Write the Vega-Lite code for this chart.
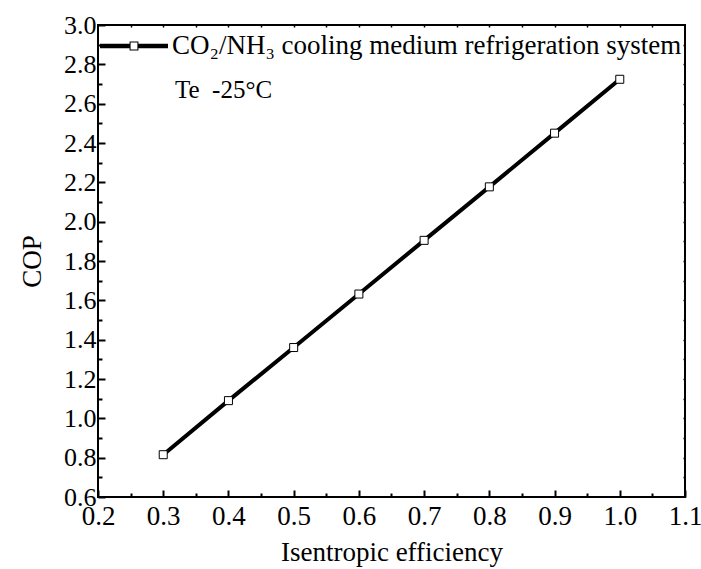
{
  "$schema": "https://vega.github.io/schema/vega-lite/v6.json",
  "width": 587,
  "height": 472,
  "autosize": "none",
  "padding": {"left": 98, "top": 25, "right": 16, "bottom": 72},
  "background": "white",
  "config": {
    "font": "Liberation Serif",
    "view": {"stroke": "black", "strokeWidth": 2},
    "axis": {
      "labelFont": "Liberation Serif",
      "labelFontSize": 27,
      "labelColor": "black",
      "labelFlush": false,
      "labelOverlap": false,
      "titleFont": "Liberation Serif",
      "titleFontSize": 27,
      "titleFontWeight": "normal",
      "titleColor": "black",
      "tickColor": "black",
      "tickWidth": 2,
      "domain": false,
      "grid": false
    }
  },
  "data": {
    "values": [
      {"eff": 0.3, "cop": 0.815},
      {"eff": 0.4, "cop": 1.09},
      {"eff": 0.5, "cop": 1.36},
      {"eff": 0.6, "cop": 1.632},
      {"eff": 0.7, "cop": 1.905},
      {"eff": 0.8, "cop": 2.177},
      {"eff": 0.9, "cop": 2.45},
      {"eff": 1.0, "cop": 2.724}
    ]
  },
  "layer": [
    {
      "mark": {"type": "line", "strokeWidth": 4},
      "encoding": {
        "x": {
          "field": "eff", "type": "quantitative",
          "scale": {"domain": [0.2, 1.1], "nice": false, "zero": false},
          "axis": {"orient": "bottom", "values": [0.2, 0.3, 0.4, 0.5, 0.6, 0.7, 0.8, 0.9, 1.0, 1.1], "format": ".1f", "tickSize": -7, "labelPadding": 13, "title": "Isentropic efficiency", "titlePadding": 10}
        },
        "y": {
          "field": "cop", "type": "quantitative",
          "scale": {"domain": [0.6, 3.0], "nice": false, "zero": false},
          "axis": {"orient": "left", "values": [0.6, 0.8, 1.0, 1.2, 1.4, 1.6, 1.8, 2.0, 2.2, 2.4, 2.6, 2.8, 3.0], "format": ".1f", "tickSize": -7, "labelPadding": 9, "labelFontSize": 26, "title": "COP", "titlePadding": 17}
        },
        "color": {
          "datum": "CO₂/NH₃ cooling medium refrigeration system",
          "type": "nominal",
          "scale": {"range": ["black"]},
          "legend": {
            "orient": "none",
            "legendX": 2,
            "legendY": -13,
            "title": null,
            "padding": 0,
            "symbolType": "M-1,-0.065H-0.13V0.065H-1ZM0.13,-0.065H1V0.065H0.13ZM-0.13,-0.13H0.13V0.13H-0.13ZM-0.1,-0.1V0.1H0.1V-0.1Z",
            "symbolSize": 4624,
            "labelFont": "Liberation Serif",
            "labelFontSize": 27,
            "labelColor": "black",
            "labelOffset": 4,
            "labelLimit": 700,
            "encode": {"symbols": {"update": {"fill": {"value": "black"}, "stroke": {"value": "transparent"}, "strokeWidth": {"value": 0}}}}
          }
        }
      }
    },
    {
      "mark": {"type": "point", "shape": "square", "filled": true, "fill": "white", "stroke": "black", "strokeWidth": 1, "size": 64, "opacity": 1},
      "encoding": {
        "x": {"field": "eff", "type": "quantitative", "axis": null},
        "y": {"field": "cop", "type": "quantitative", "axis": null}
      }
    },
    {
      "mark": {"type": "point", "opacity": 0},
      "encoding": {
        "x": {"field": "eff", "type": "quantitative", "axis": {"orient": "bottom", "values": [0.25, 0.35, 0.45, 0.55, 0.65, 0.75, 0.85, 0.95, 1.05], "tickSize": -4, "labels": false, "title": null}},
        "y": {"field": "cop", "type": "quantitative", "axis": {"orient": "left", "values": [0.7, 0.9, 1.1, 1.3, 1.5, 1.7, 1.9, 2.1, 2.3, 2.5, 2.7, 2.9], "tickSize": -4, "labels": false, "title": null}}
      }
    },
    {
      "mark": {"type": "point", "opacity": 0},
      "encoding": {
        "x": {"field": "eff", "type": "quantitative", "axis": {"orient": "top", "values": [0.25, 0.3, 0.35, 0.4, 0.45, 0.5, 0.55, 0.6, 0.65, 0.7, 0.75, 0.8, 0.85, 0.9, 0.95, 1.0, 1.05], "tickSize": -2, "tickWidth": 1.5, "labels": false, "title": null}},
        "y": {"field": "cop", "type": "quantitative", "axis": {"orient": "right", "values": [0.7, 0.8, 0.9, 1.0, 1.1, 1.2, 1.3, 1.4, 1.5, 1.6, 1.7, 1.8, 1.9, 2.0, 2.1, 2.2, 2.3, 2.4, 2.5, 2.6, 2.7, 2.8, 2.9], "tickSize": -2, "tickWidth": 1.5, "labels": false, "title": null}}
      }
    },
    {
      "data": {"values": [{"label": "Te\u00a0\u00a0-25°C"}]},
      "mark": {"type": "text", "align": "left", "baseline": "middle", "font": "Liberation Serif", "fontSize": 25, "color": "black"},
      "encoding": {
        "text": {"field": "label", "type": "nominal"},
        "x": {"datum": 0.318, "type": "quantitative", "axis": null},
        "y": {"datum": 2.67, "type": "quantitative", "axis": null}
      }
    }
  ],
  "resolve": {"axis": {"x": "independent", "y": "independent"}}
}
